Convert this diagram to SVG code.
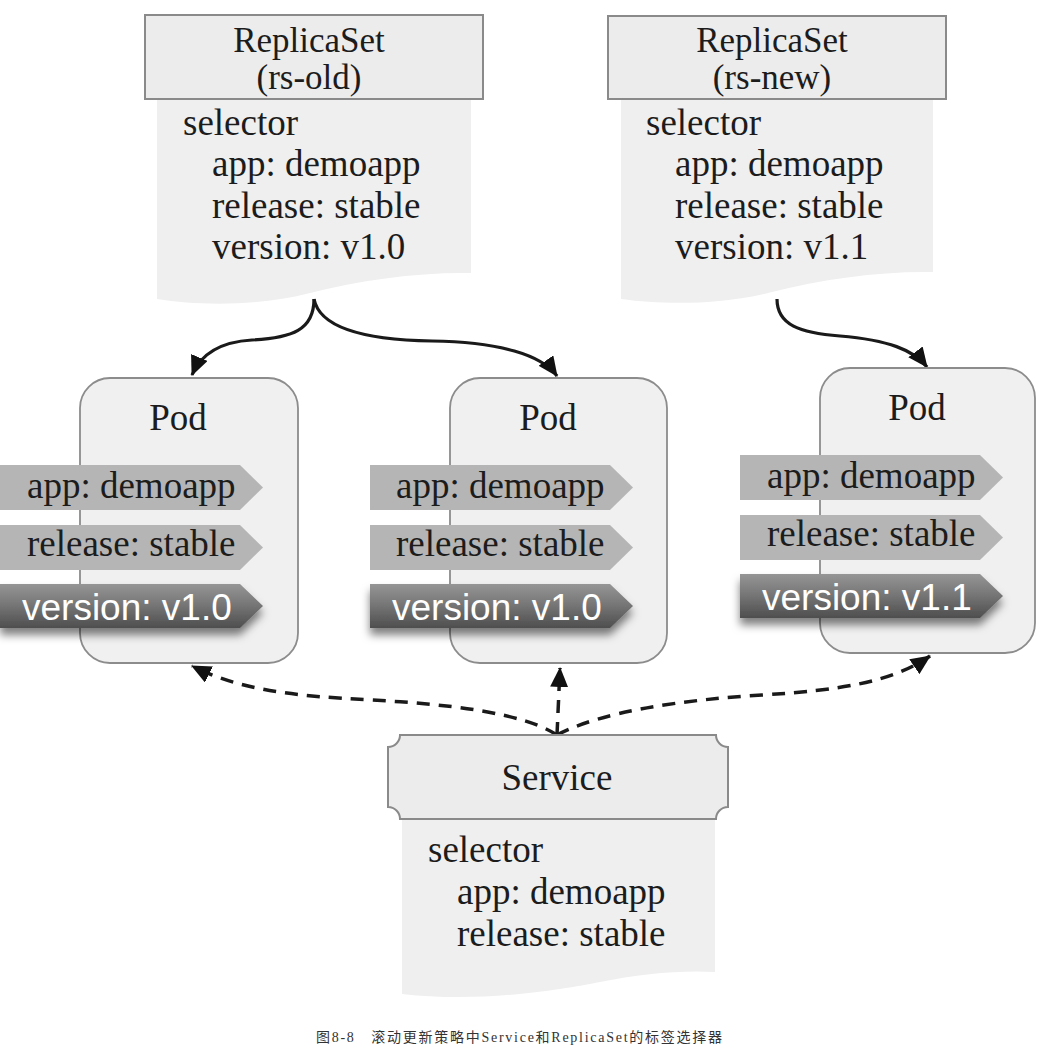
<svg xmlns="http://www.w3.org/2000/svg" width="1046" height="1063" viewBox="0 0 1046 1063">
<defs>
<style>
.hdr{fill:#ececec;stroke:#8a8a8a;stroke-width:2}
.body{fill:#efefef;stroke:none}
.pod{fill:#f0f0f0;stroke:#8c8c8c;stroke-width:1.8}
.tag{fill:#b5b5b5}
.dtag{fill:url(#dg);filter:url(#sh)}
.t{font-family:"Liberation Serif","Times New Roman",serif;font-size:37px;fill:#1c1c1c}
.h{font-size:35px}
.c{text-anchor:middle}
.w{font-family:"Liberation Sans",Arial,sans-serif;font-size:37px;fill:#ffffff}
.cap{font-family:"Liberation Serif","Noto Sans CJK SC",serif;font-size:14px;fill:#333}
.solid{fill:none;stroke:#1a1a1a;stroke-width:3.2;marker-end:url(#ah)}
.dash{fill:none;stroke:#1a1a1a;stroke-width:3.5;stroke-dasharray:13 9;marker-end:url(#ah)}
</style>
<linearGradient id="dg" x1="0" y1="0" x2="0" y2="1">
<stop offset="0" stop-color="#959595"/>
<stop offset="0.5" stop-color="#747474"/>
<stop offset="1" stop-color="#4e4e4e"/>
</linearGradient>
<filter id="sh" x="-10%" y="-30%" width="120%" height="180%">
<feDropShadow dx="0" dy="7" stdDeviation="4" flood-color="#000" flood-opacity="0.5"/>
</filter>
<marker id="ah" viewBox="0 0 20 18" refX="19" refY="9" markerWidth="20" markerHeight="18" markerUnits="userSpaceOnUse" orient="auto">
<path d="M0,0 L20,9 L0,18 Z" fill="#111"/>
</marker>
</defs>

<g id="connectors">
<path class="solid" d="M314 299 C314 330 292 338 252 340 C218 342 200 356 192 375"/>
<path class="solid" d="M314 299 C320 330 372 340 432 341 C500 342 542 355 557 376"/>
<path class="solid" d="M777 299 C777 325 800 333 840 336 C888 340 914 350 927 367"/>
<path class="dash" d="M557 735 C522 712 444 704 372 700 C292 696 240 690 192 666"/>
<path class="dash" d="M557 735 L560 668"/>
<path class="dash" d="M557 735 C600 712 680 700 762 695 C842 690 892 682 930 656"/>
</g>

<g id="rs-old">
<path class="body" d="M157 99 H471 V273 C420 272 360 280 310 293 C260 306 200 306 157 299 Z"/>
<rect class="hdr" x="145" y="15" width="338" height="84"/>
<text class="t h c" x="309" y="52">ReplicaSet</text>
<text class="t h c" x="309" y="89">(rs-old)</text>
<text class="t" x="183" y="135">selector</text>
<text class="t" x="212" y="176">app: demoapp</text>
<text class="t" x="212" y="218">release: stable</text>
<text class="t" x="212" y="259">version: v1.0</text>
</g>

<g id="rs-new">
<path class="body" d="M621 99 H933 V272 C882 271 822 279 772 292 C722 305 664 305 621 299 Z"/>
<rect class="hdr" x="608" y="16" width="338" height="83"/>
<text class="t h c" x="772" y="52">ReplicaSet</text>
<text class="t h c" x="772" y="89">(rs-new)</text>
<text class="t" x="646" y="135">selector</text>
<text class="t" x="675" y="176">app: demoapp</text>
<text class="t" x="675" y="218">release: stable</text>
<text class="t" x="675" y="259">version: v1.1</text>
</g>

<g id="pod1">
<rect class="pod" x="80" y="378" width="218" height="285" rx="30" ry="30"/>
<text class="t c" x="178" y="430">Pod</text>
<polygon class="tag" points="0,465 240,465 263,487.5 240,510 0,510"/>
<text class="t" x="27" y="498">app: demoapp</text>
<polygon class="tag" points="0,525 240,525 263,547.5 240,570 0,570"/>
<text class="t" x="27" y="556">release: stable</text>
<polygon class="dtag" points="0,584 240,584 263,606 240,628 0,628"/>
<text class="w" x="22" y="620">version: v1.0</text>
</g>

<g id="pod2">
<rect class="pod" x="450" y="378" width="217" height="285" rx="30" ry="30"/>
<text class="t c" x="548" y="430">Pod</text>
<polygon class="tag" points="370,465 610,465 633,487.5 610,510 370,510"/>
<text class="t" x="396" y="498">app: demoapp</text>
<polygon class="tag" points="370,525 610,525 633,547.5 610,570 370,570"/>
<text class="t" x="396" y="556">release: stable</text>
<polygon class="dtag" points="370,584 610,584 633,606 610,628 370,628"/>
<text class="w" x="392" y="620">version: v1.0</text>
</g>

<g id="pod3">
<rect class="pod" x="820" y="368" width="215" height="285" rx="30" ry="30"/>
<text class="t c" x="917" y="420">Pod</text>
<polygon class="tag" points="740,455 980,455 1003,477.5 980,500 740,500"/>
<text class="t" x="767" y="488">app: demoapp</text>
<polygon class="tag" points="740,515 980,515 1003,537.5 980,560 740,560"/>
<text class="t" x="767" y="546">release: stable</text>
<polygon class="dtag" points="740,574 980,574 1003,596 980,618 740,618"/>
<text class="w" x="762" y="610">version: v1.1</text>
</g>

<g id="service">
<path class="body" d="M402 819 H715 V972 C680 970 640 974 600 982 C560 990 480 1003 402 994 Z"/>
<path class="hdr" d="M400 735 H716 A12 12 0 0 0 728 747 V807 A12 12 0 0 0 716 819 H400 A12 12 0 0 0 388 807 V747 A12 12 0 0 0 400 735 Z"/>
<text class="t c" x="557" y="790">Service</text>
<text class="t" x="428" y="862">selector</text>
<text class="t" x="457" y="904">app: demoapp</text>
<text class="t" x="457" y="946">release: stable</text>
</g>

<text class="cap" x="316" y="1042" textLength="406" lengthAdjust="spacing">图8-8　滚动更新策略中Service和ReplicaSet的标签选择器</text>
</svg>
